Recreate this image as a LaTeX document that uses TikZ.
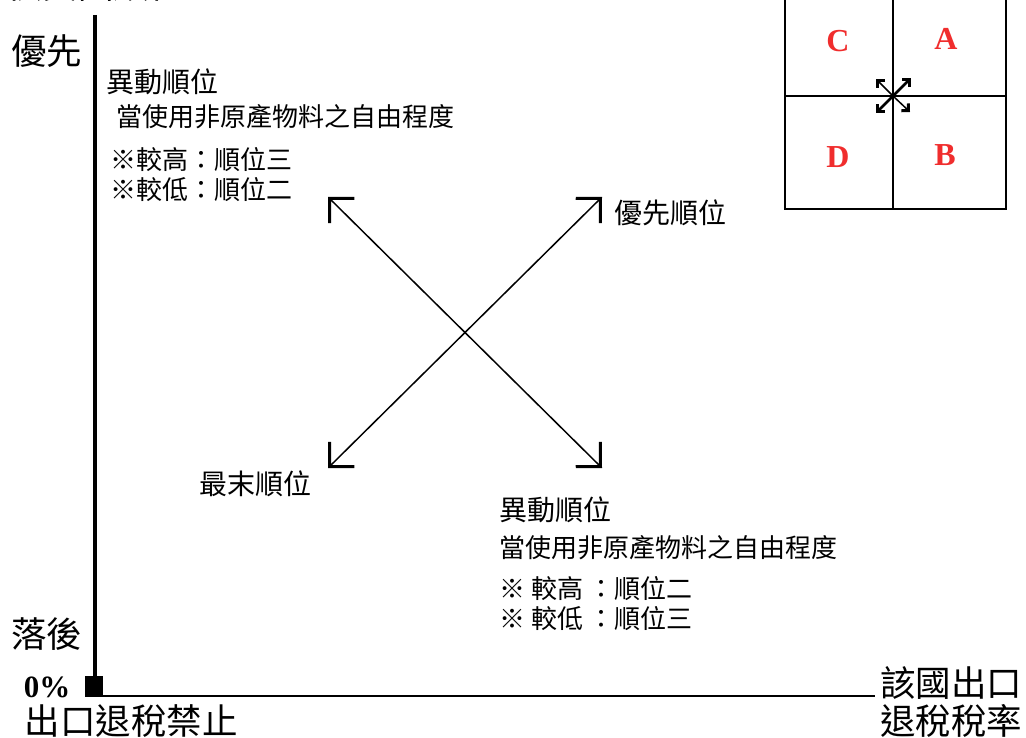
\documentclass[tikz,border=0pt]{standalone}
\usepackage{fontspec}
\setmainfont{Liberation Serif}
\newfontfamily\cjk{Noto Sans CJK TC}
\usetikzlibrary{arrows.meta}
\definecolor{qred}{RGB}{240,45,45}
\tikzset{
  big/.style={inner sep=0pt, font=\cjk\fontsize{35.5}{40}\selectfont},
  head/.style={inner sep=0pt, anchor=west, font=\cjk\fontsize{28}{32}\selectfont},
  body/.style={inner sep=0pt, anchor=west, font=\cjk\fontsize{26}{30}\selectfont},
  qletter/.style={inner sep=0pt, text=qred, font=\bfseries\fontsize{32}{36}\selectfont},
  bigarrow/.style={line width=1.5pt, {Straight Barb[length=17.5pt,width=35pt,line width=3pt]}-{Straight Barb[length=17.5pt,width=35pt,line width=3pt]}},
  smallarrow/.style={line width=1.5pt, -{Straight Barb[length=5pt,width=10pt,line width=3pt]}},
  quad/.style={line width=2pt}
}
\begin{document}
\begin{tikzpicture}[x=1pt,y=-1pt]
\useasboundingbox (0,0) rectangle (1026,738);
\clip (0,0) rectangle (1026,738);
% axes
\coordinate (ytop) at (95,15);
\coordinate (org) at (95,696);
\coordinate (xend) at (875,696);
\draw[line width=4pt] (ytop) -- (org);
\draw[line width=2.5pt] (94,696) -- (xend);
\fill (85,676) rectangle (103,697);
% axis labels
\node[big] (ttl) at (96,-15) {供貨國順位};
\node[big] (yhi) at (47,51) {優先};
\node[big] (ylo) at (47,634) {落後};
\node[inner sep=0pt, font=\bfseries\fontsize{31}{34}\selectfont] (zero) at (47,687) {0\%};
\node[big] (xlo) at (131,721) {出口退稅禁止};
\node[big] (xhi1) at (951,683) {該國出口};
\node[big] (xhi2) at (951,721) {退稅稅率};
% upper-left text block
\node[head] (h1) at (106,82) {異動順位};
\node[body] (b1) at (116,117) {當使用非原產物料之自由程度};
\node[body] (c1) at (110,160) {※較高：順位三};
\node[body] (d1) at (110,190) {※較低：順位二};
% lower-right text block
\node[head] (h2) at (499,510) {異動順位};
\node[body] (b2) at (499,548) {當使用非原產物料之自由程度};
\node[body] (c2) at (499,589) {※ 較高 ：順位二};
\node[body] (d2) at (499,619) {※ 較低 ：順位三};
% corner labels
\node[head] (best) at (614,213) {優先順位};
\node[head] (last) at (199,484) {最末順位};
% big X arrows
\coordinate (tl) at (328,197);
\coordinate (br) at (602,468);
\coordinate (tr) at (602,197);
\coordinate (bl) at (328,468);
\draw[bigarrow] (tl) -- (br);
\draw[bigarrow] (bl) -- (tr);
% quadrant box
\draw[quad] (785,-5) -- (785,209) -- (1006,209) -- (1006,-5);
\draw[quad] (893,-5) -- (893,209);
\draw[quad] (785,96) -- (1006,96);
\node[qletter] (qC) at (838,41) {C};
\node[qletter] (qA) at (946,39) {A};
\node[qletter] (qD) at (838,157) {D};
\node[qletter] (qB) at (945,155) {B};
\coordinate (qc) at (893,96);
\coordinate (qne) at (911,78);
\coordinate (qnw) at (876,79);
\coordinate (qse) at (910,112);
\coordinate (qsw) at (876,113);
\draw[smallarrow, line width=2.5pt] (qc) -- (qne);
\draw[smallarrow, line width=2.5pt] (qc) -- (qsw);
\draw[smallarrow] (qc) -- (qnw);
\draw[smallarrow] (qc) -- (qse);
\end{tikzpicture}
\end{document}
